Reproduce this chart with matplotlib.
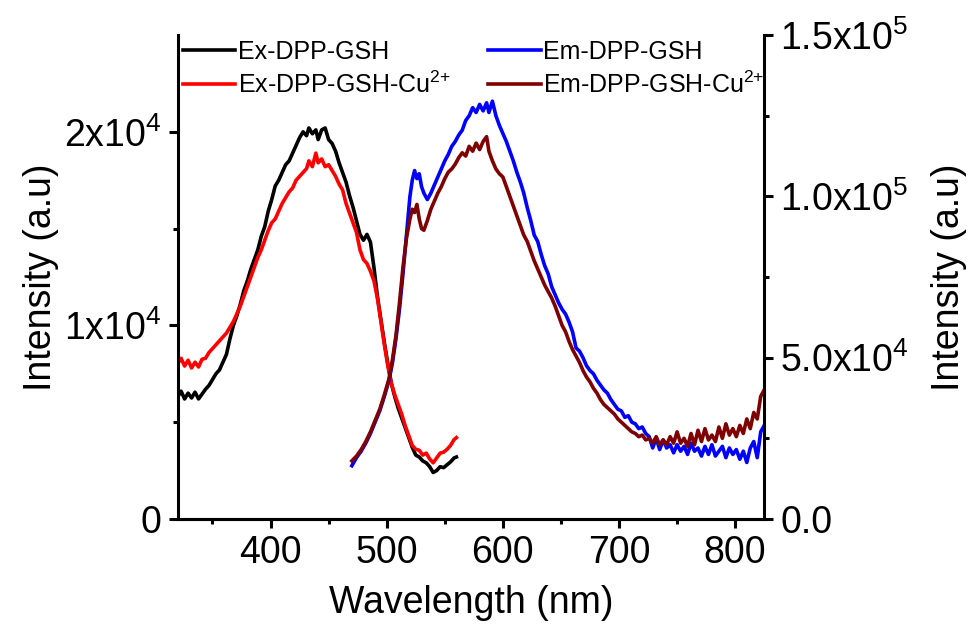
import matplotlib
matplotlib.use("Agg")
import matplotlib.pyplot as plt
from matplotlib.ticker import FixedLocator

plt.rcParams['font.family'] = ['Liberation Sans', 'DejaVu Sans']
plt.rcParams['mathtext.default'] = 'regular'

# excitation spectra (left axis)
ex_wl = [320, 323, 326, 329, 332, 335, 338, 341, 344, 347, 350, 353, 356, 359, 362, 365, 368,
         371, 374, 377, 380, 383, 386, 389, 392, 395, 398, 401, 404, 407, 410, 413, 416, 419,
         422, 425, 428, 431, 433, 436, 439, 441, 444, 447, 450, 453, 456, 459, 462, 465, 468,
         471, 474, 477, 480, 483, 486, 489, 492, 495, 498, 501, 504, 507, 510, 513, 516, 519,
         522, 525, 528, 531, 534, 537, 540, 543, 546, 549, 552, 555, 558, 560]
ex_gsh = [6300, 6600, 6200, 6500, 6250, 6550, 6200, 6450, 6700, 6900, 7200, 7500, 7700, 8100,
          8500, 9300, 10000, 10500, 11100, 11800, 12300, 12900, 13400, 13900, 14600, 15100,
          15900, 16500, 17200, 17500, 17900, 18300, 18500, 18900, 19300, 19700, 20000, 19800,
          20200, 19900, 20100, 19600, 20100, 20200, 19600, 19400, 19000, 18400, 17900, 17400,
          16700, 16100, 15400, 14700, 14400, 14700, 14300, 13000, 11500, 10300, 9100, 8000,
          7000, 6300, 5700, 5200, 4700, 4200, 3700, 3300, 3200, 3000, 2900, 2700, 2400, 2500,
          2700, 2650, 2800, 2950, 3150, 3200]
ex_gsh_cu = [8000, 8300, 7900, 8200, 7800, 8100, 7850, 8250, 8300, 8600, 8800, 9000, 9200, 9400,
             9600, 9900, 10200, 10600, 11000, 11500, 12000, 12500, 13000, 13500, 13900, 14400,
             14900, 15300, 15500, 15900, 16300, 16600, 16900, 17100, 17500, 17700, 17900, 18100,
             18500, 18200, 18900, 18400, 18600, 18200, 18300, 18000, 17700, 17300, 17000, 16300,
             15800, 15300, 14800, 13900, 13400, 13200, 12800, 12300, 11400, 10200, 9000, 7900,
             7000, 6400, 5900, 5400, 4800, 4300, 3800, 3600, 3550, 3300, 3400, 3100, 2900, 3150,
             3400, 3450, 3600, 3800, 4100, 4200]

# emission spectra (right axis)
em_wl = [470, 474, 478, 482, 486, 490, 494, 498, 502, 505, 508, 511, 514, 517, 520, 522, 524,
         526, 528, 530, 532, 535, 538, 541, 544, 547, 550, 553, 556, 559, 562, 565, 568, 571,
         574, 577, 580, 583, 586, 588, 591, 594, 597, 600, 603, 606, 609, 612, 615, 618, 621,
         624, 627, 630, 633, 636, 639, 642, 645, 648, 651, 654, 657, 660, 663, 666, 669, 672,
         675, 678, 681, 684, 687, 690, 693, 696, 699, 702, 705, 708, 711, 714, 717, 720, 723,
         726, 729, 732, 735, 738, 741, 744, 747, 750, 753, 756, 759, 762, 765, 768, 771, 774,
         777, 780, 783, 786, 789, 792, 795, 798, 801, 804, 807, 810, 813, 816, 819, 822, 825]
em_gsh = [16500, 19000, 21000, 23500, 26500, 30000, 33500, 38000, 43000, 48500, 56000, 65000,
          76000, 88000, 100000, 105000, 108000, 105500, 107000, 103000, 101000, 99000, 101000,
          103500, 106000, 108500, 111000, 113000, 115500, 117000, 119000, 120500, 123500, 125000,
          127500, 126000, 128500, 126500, 129000, 126000, 129500, 125000, 122000, 119500, 117000,
          114000, 111000, 107500, 104500, 101000, 96500, 92500, 88000, 86000, 82000, 78500,
          76000, 72000, 69500, 67000, 65000, 63500, 61000, 58000, 53000, 52000, 50000, 47500,
          46000, 45000, 43000, 41500, 40000, 39000, 37000, 35500, 34000, 33500, 31500, 32000,
          30000, 29500, 28000, 28500, 26500, 25500, 22000, 25000, 21500, 24500, 22000, 23000,
          20500, 23000, 21000, 22500, 20000, 23500, 21000, 22000, 19500, 22500, 20000, 23000,
          19500, 21000, 22500, 19000, 22000, 20000, 21500, 18500, 21000, 17500, 22000, 24000,
          19000, 27000, 29000]
em_gsh_cu = [18000, 19500, 21500, 24000, 27000, 30500, 34000, 38500, 43500, 49500, 57000, 67000,
             78000, 87000, 93000, 96000, 95000, 97500, 93000, 90000, 89500, 92500, 96000, 98500,
             101000, 103000, 105500, 107500, 108500, 110000, 112000, 113500, 112500, 115500,
             114000, 116500, 114500, 117000, 118500, 114000, 111000, 108500, 107000, 106000,
             103000, 100000, 97000, 94000, 91000, 88000, 86000, 83000, 80000, 77500, 75000,
             72500, 70500, 68500, 66000, 63000, 60000, 58000, 55000, 52500, 50500, 48500, 46000,
             44000, 42500, 40500, 39000, 37000, 35500, 34500, 33500, 32500, 31000, 30000, 29000,
             28000, 27000, 26500, 25500, 26000, 24500, 25000, 23500, 25500, 23000, 24500, 23000,
             25500, 23500, 27000, 23500, 25000, 22500, 26500, 23000, 27500, 24000, 28000, 24500,
             26000, 24000, 28500, 25000, 29500, 26000, 28000, 25500, 29000, 26500, 31000, 28000,
             33000, 31000, 38000, 40000]

fig = plt.figure(figsize=(9.76, 6.26), dpi=100)
ax = fig.add_axes([0.182, 0.171, 0.601, 0.773])
ax2 = ax.twinx()

l1, = ax.plot(ex_wl, ex_gsh, color='black', lw=2.6, label='Ex-DPP-GSH')
l2, = ax.plot(ex_wl, ex_gsh_cu, color='#ff0000', lw=2.6, label='Ex-DPP-GSH-Cu$^{2{+}}$')
l3, = ax2.plot(em_wl, em_gsh, color='#0000ff', lw=2.6, label='Em-DPP-GSH')
l4, = ax2.plot(em_wl, em_gsh_cu, color='#7f0000', lw=2.6, label='Em-DPP-GSH-Cu$^{2{+}}$')

ax.set_xlim(320, 825)
ax.set_ylim(0, 25000)
ax2.set_ylim(0, 150000)

ax.xaxis.set_major_locator(FixedLocator([400, 500, 600, 700, 800]))
ax.xaxis.set_minor_locator(FixedLocator([350, 450, 550, 650, 750]))
ax.set_xticklabels(['400', '500', '600', '700', '800'])
ax.yaxis.set_major_locator(FixedLocator([0, 10000, 20000]))
ax.yaxis.set_minor_locator(FixedLocator([5000, 15000]))
ax.set_yticklabels(['0', '1x10$^4$', '2x10$^4$'])
ax2.yaxis.set_major_locator(FixedLocator([0, 50000, 100000, 150000]))
ax2.yaxis.set_minor_locator(FixedLocator([25000, 75000, 125000]))
ax2.set_yticklabels(['0.0', '5.0x10$^4$', '1.0x10$^5$', '1.5x10$^5$'])

for a in (ax, ax2):
    a.spines['top'].set_visible(False)
    for s in a.spines.values():
        s.set_linewidth(2.2)
    a.tick_params(which='major', direction='out', length=6.5, width=2.2, labelsize=27, pad=5)
    a.tick_params(which='minor', direction='out', length=3.5, width=2.2)
ax.spines['right'].set_visible(False)
ax2.spines['left'].set_visible(False)

ax.set_xlabel('Wavelength (nm)', fontsize=27, labelpad=10)
ax.set_ylabel('Intensity (a.u)', fontsize=27, labelpad=4)
ax2.set_ylabel('Intensity (a.u)', fontsize=27, labelpad=16)

ax2.legend(handles=[l1, l2, l3, l4], ncol=2, frameon=False, fontsize=18,
           loc='upper left', bbox_to_anchor=(0.0, 1.0), borderaxespad=0.0, borderpad=0.2,
           handlelength=2.1, handletextpad=0.1, columnspacing=1.5, labelspacing=0.3)

fig.savefig('out.png', dpi=100)
